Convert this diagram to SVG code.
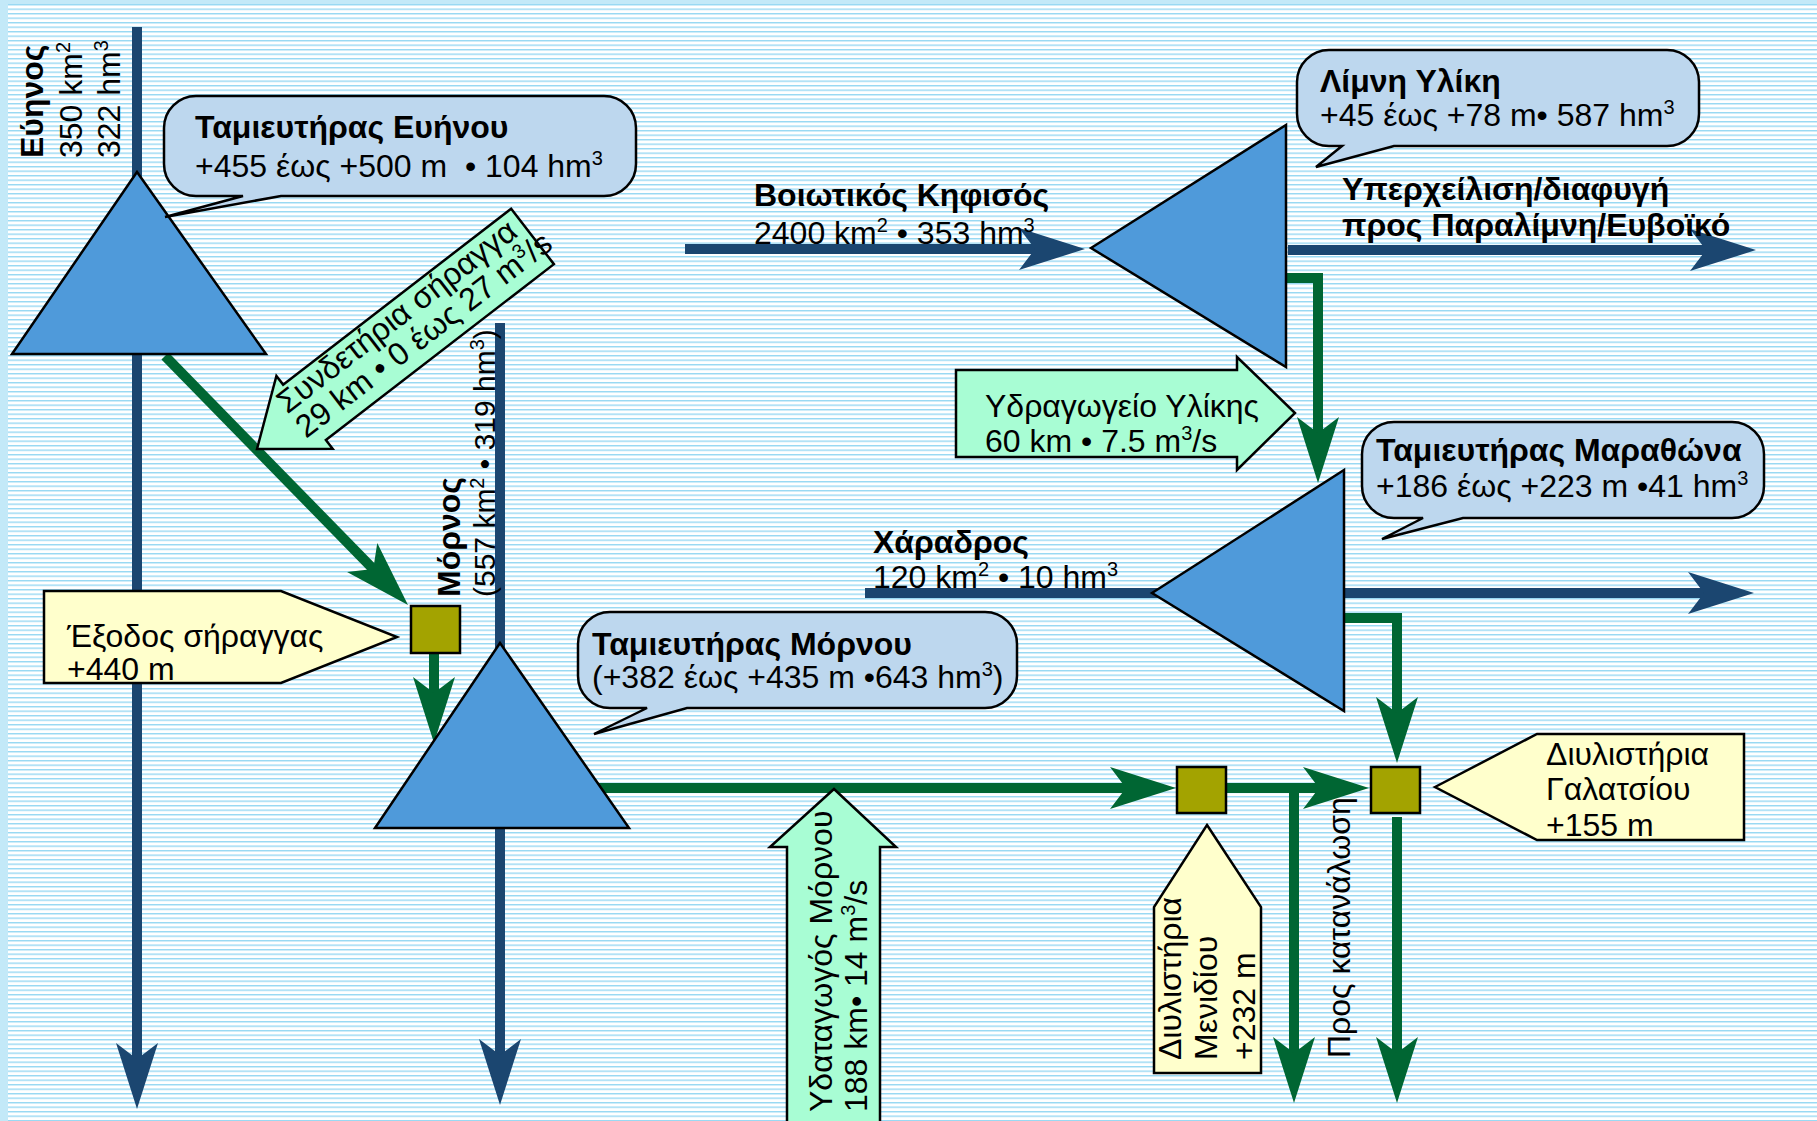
<svg xmlns="http://www.w3.org/2000/svg" xmlns:xlink="http://www.w3.org/1999/xlink" width="1817" height="1121" viewBox="0 0 1817 1121">
<defs>
<pattern id="bgl" patternUnits="userSpaceOnUse" x="0" y="4" width="20" height="4.5">
<rect x="0" y="0" width="20" height="1.4" fill="#96D8F3"/>
</pattern>
<path id="hd" d="M0,0 L-66,-21 L-50,0 L-66,21 Z"/>
<style>
text{font-family:"Liberation Sans",Arial,sans-serif;font-size:32px;fill:#000;}
.b{font-weight:bold;}
.pre{white-space:pre;}
.sup{font-size:20px;}
.sm{font-size:30px;}
.river{fill:none;stroke:#1B4670;stroke-width:10;}
.rh{fill:#1B4670;}
.pipe{fill:none;stroke:#006633;stroke-width:10;stroke-linejoin:miter;}
.ph{fill:#006633;}
.tri{fill:#4F9ADA;stroke:#000;stroke-width:2.5;stroke-linejoin:miter;}
.call{fill:#BDD7EE;stroke:#000;stroke-width:2.5;}
.yel{fill:#FFFFCC;stroke:#000;stroke-width:2.5;}
.grn{fill:#A8FDD4;stroke:#000;stroke-width:2.5;}
.sq{fill:#A3A300;stroke:#000;stroke-width:2.5;}
</style>
</defs>
<g id="background">
<rect x="0" y="0" width="1817" height="1121" fill="#C3E9F8"/>
<rect x="8" y="4" width="1809" height="1117" fill="#FFFFFF"/>
<rect x="8" y="4" width="1809" height="1117" fill="url(#bgl)"/>
</g>
<g id="connectors">
<path class="river" d="M137,27 V1070"/>
<use href="#hd" class="rh" transform="translate(137,1109) rotate(90)"/>
<path class="river" d="M500,323 V1066"/>
<use href="#hd" class="rh" transform="translate(500,1105) rotate(90)"/>
<path class="river" d="M685,249 H1045"/>
<use href="#hd" class="rh" transform="translate(1085,249)"/>
<path class="river" d="M1288,250 H1716"/>
<use href="#hd" class="rh" transform="translate(1756,250)"/>
<path class="river" d="M865,593 H1714"/>
<use href="#hd" class="rh" transform="translate(1754,593)"/>
<path class="pipe" d="M165,356 L380,576"/>
<use href="#hd" class="ph" transform="translate(408,605) rotate(46)"/>
<path class="pipe" d="M434,653 V713"/>
<use href="#hd" class="ph" transform="translate(434,743) rotate(90)"/>
<path class="pipe" d="M560,788 H1140"/>
<use href="#hd" class="ph" transform="translate(1176,788)"/>
<path class="pipe" d="M1226,788 H1294 V1066"/>
<use href="#hd" class="ph" transform="translate(1294,1103) rotate(90)"/>
<path class="pipe" d="M1294,788 H1333"/>
<use href="#hd" class="ph" transform="translate(1369,788)"/>
<path class="pipe" d="M1397,817 V1066"/>
<use href="#hd" class="ph" transform="translate(1397,1103) rotate(90)"/>
<path class="pipe" d="M1340,618 H1397 V727"/>
<use href="#hd" class="ph" transform="translate(1397,763) rotate(90)"/>
<path class="pipe" d="M1282,278 H1318 V447"/>
<use href="#hd" class="ph" transform="translate(1318,483) rotate(90)"/>
</g>
<g id="evinos-river-label" transform="translate(43,158) rotate(-90)">
<text class="b" x="0" y="0">Εύηνος</text>
<text x="0" y="39">350 km<tspan class="sup" dy="-12">2</tspan></text>
<text x="0" y="77">322 hm<tspan class="sup" dy="-12">3</tspan></text>
</g>
<g id="evinos-reservoir">
<polygon class="tri" points="137,172 266,354 12,354"/>
</g>
<g id="evinos-callout">
<path class="call" d="M196,96 H604 A32,32 0 0 1 636,128 V164 A32,32 0 0 1 604,196 H281 L165,217 L243,196 H196 A32,32 0 0 1 164,164 V128 A32,32 0 0 1 196,96 Z"/>
<text class="b" x="195" y="138">Ταμιευτήρας Ευήνου</text>
<text class="pre" x="195" y="177">+455 έως +500 m  • 104 hm<tspan class="sup" dy="-12">3</tspan></text>
</g>
<g id="syndetiria-tunnel" transform="translate(257,449) rotate(-37.65)">
<path class="grn" d="M0,0 L60,-46 L60,-35 L348,-35 L348,35 L60,35 L60,46 Z"/>
<text x="45" y="-9">Συνδετήρια σήραγγα</text>
<text x="45" y="22">29 km • 0 έως 27 m<tspan class="sup" dy="-12">3</tspan><tspan dy="12">/s</tspan></text>
</g>
<g id="morno-river-label" transform="translate(460,597) rotate(-90)">
<text class="b" x="0" y="0">Μόρνος</text>
<text class="sm" x="0" y="35">(557 km<tspan class="sup" dy="-11">2</tspan><tspan dy="11"> • 319 hm</tspan><tspan class="sup" dy="-11">3</tspan><tspan dy="11">)</tspan></text>
</g>
<g id="tunnel-exit">
<rect class="sq" x="411" y="606" width="49" height="47"/>
</g>
<g id="tunnel-exit-label">
<polygon class="yel" points="44,591 281,591 397,637 281,683 44,683"/>
<text x="67" y="647">Έξοδος σήραγγας</text>
<text x="67" y="680">+440 m</text>
</g>
<g id="morno-reservoir">
<polygon class="tri" points="500,643 629,828 375,828"/>
</g>
<g id="morno-callout">
<path class="call" d="M610,612 H985 A32,32 0 0 1 1017,644 V676 A32,32 0 0 1 985,708 H687 L594,734 L647,708 H610 A32,32 0 0 1 578,676 V644 A32,32 0 0 1 610,612 Z"/>
<text class="b" x="592" y="655">Ταμιευτήρας Μόρνου</text>
<text x="592" y="688">(+382 έως +435 m •643 hm<tspan class="sup" dy="-12">3</tspan><tspan dy="12">)</tspan></text>
</g>
<g id="mornos-aqueduct">
<path class="grn" d="M834,789 L896,847 L880,847 L880,1126 L787,1126 L787,847 L770,847 Z"/>
<g transform="translate(832,1112) rotate(-90)">
<text x="0" y="0">Υδαταγωγός Μόρνου</text>
<text x="0" y="35">188 km• 14 m<tspan class="sup" dy="-12">3</tspan><tspan dy="12">/s</tspan></text>
</g>
</g>
<g id="kifisos-label">
<text class="b" x="754" y="206">Βοιωτικός Κηφισός</text>
<text x="754" y="244">2400 km<tspan class="sup" dy="-12">2</tspan><tspan dy="12"> • 353 hm</tspan><tspan class="sup" dy="-12">3</tspan></text>
</g>
<g id="yliki-lake">
<polygon class="tri" points="1091,248 1286,125 1286,367"/>
</g>
<g id="yliki-callout">
<path class="call" d="M1329,50 H1667 A32,32 0 0 1 1699,82 V114 A32,32 0 0 1 1667,146 H1394 L1316,167 L1342,146 H1329 A32,32 0 0 1 1297,114 V82 A32,32 0 0 1 1329,50 Z"/>
<text class="b" x="1320" y="92">Λίμνη Υλίκη</text>
<text x="1320" y="126">+45 έως +78 m• 587 hm<tspan class="sup" dy="-12">3</tspan></text>
</g>
<g id="overflow-label">
<text class="b" x="1342" y="200">Υπερχείλιση/διαφυγή</text>
<text class="b" x="1342" y="236">προς Παραλίμνη/Ευβοϊκό</text>
</g>
<g id="yliki-aqueduct">
<polygon class="grn" points="956,370 1237,370 1237,357 1295,413 1237,470 1237,457 956,457"/>
<text x="985" y="417">Υδραγωγείο Υλίκης</text>
<text x="985" y="452">60 km • 7.5 m<tspan class="sup" dy="-12">3</tspan><tspan dy="12">/s</tspan></text>
</g>
<g id="charadros-label">
<text class="b" x="873" y="553">Χάραδρος</text>
<text x="873" y="588">120 km<tspan class="sup" dy="-12">2</tspan><tspan dy="12"> • 10 hm</tspan><tspan class="sup" dy="-12">3</tspan></text>
</g>
<g id="marathon-reservoir">
<polygon class="tri" points="1152,593 1344,470 1344,711"/>
</g>
<g id="marathon-callout">
<path class="call" d="M1394,422 H1732 A32,32 0 0 1 1764,454 V486 A32,32 0 0 1 1732,518 H1463 L1382,539 L1423,518 H1394 A32,32 0 0 1 1362,486 V454 A32,32 0 0 1 1394,422 Z"/>
<text class="b" x="1376" y="461">Ταμιευτήρας Μαραθώνα</text>
<text x="1376" y="497">+186 έως +223 m •41 hm<tspan class="sup" dy="-12">3</tspan></text>
</g>
<g id="menidi-plant">
<rect class="sq" x="1177" y="767" width="49" height="46"/>
</g>
<g id="menidi-label">
<polygon class="yel" points="1207,825 1261,907 1261,1073 1154,1073 1154,907"/>
<g transform="translate(1181,1060) rotate(-90)">
<text x="0" y="0">Διυλιστήρια</text>
<text x="0" y="36">Μενιδίου</text>
<text x="0" y="74">+232 m</text>
</g>
</g>
<g id="consumption-label">
<text transform="translate(1350,1058) rotate(-90)" x="0" y="0">Προς κατανάλωση</text>
</g>
<g id="galatsi-plant">
<rect class="sq" x="1371" y="767" width="49" height="46"/>
</g>
<g id="galatsi-label">
<polygon class="yel" points="1435,787 1537,734 1744,734 1744,840 1537,840"/>
<text x="1546" y="765">Διυλιστήρια</text>
<text x="1546" y="800">Γαλατσίου</text>
<text x="1546" y="836">+155 m</text>
</g>
</svg>
